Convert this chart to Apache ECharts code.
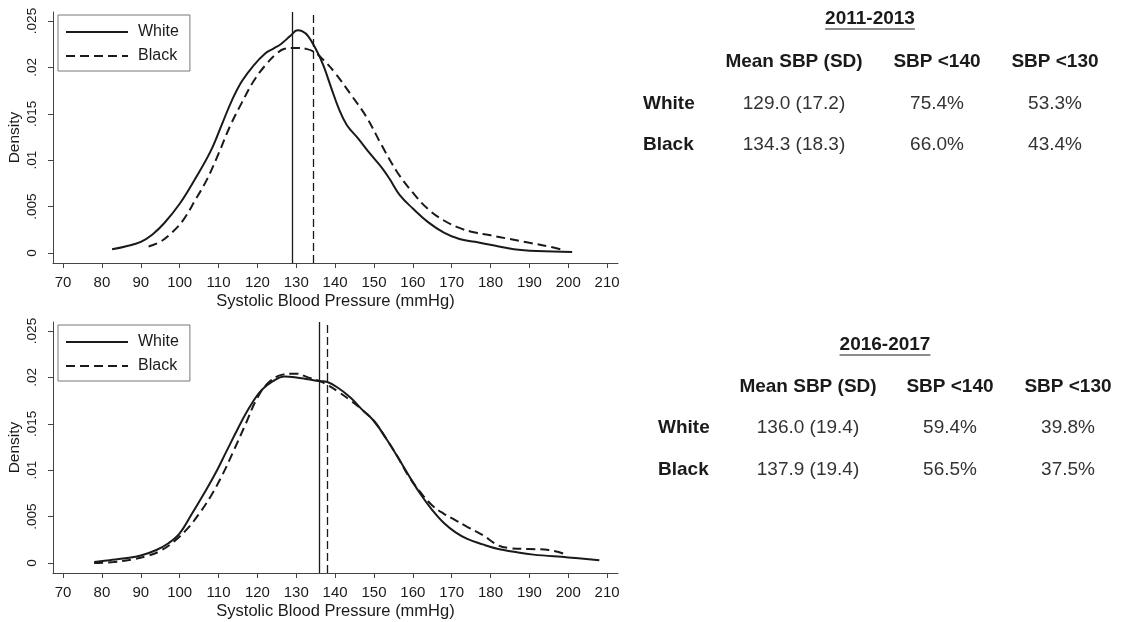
<!DOCTYPE html>
<html>
<head>
<meta charset="utf-8">
<script src="https://cdn.jsdelivr.net/npm/echarts@6/dist/echarts.min.js"></script>
<style>
html,body{margin:0;padding:0;background:#fff;}
#chart{width:1126px;height:622px;}
</style>
</head>
<body>
<div id="chart"></div>
<script>
// ---------- DATA ----------
const seriesNames = ['White', 'Black'];
const xTicks = [70, 80, 90, 100, 110, 120, 130, 140, 150, 160, 170, 180, 190, 200, 210];
const yTicks = [0, 0.005, 0.01, 0.015, 0.02, 0.025];
const yTickLabels = ['0', '.005', '.01', '.015', '.02', '.025'];

// 2011-2013 densities [SBP, density]
const whiteTop = [[82.6,0.0004],[86,0.0007],[90,0.0012],[93,0.0020],[96,0.0032],[100,0.0053],[104,0.0080],[108,0.0110],[111,0.0140],[113.5,0.0165],[116,0.0185],[119,0.0202],[122,0.0215],[124,0.0220],[126,0.0225],[128.5,0.0234],[130.3,0.0240],[131.5,0.0239],[133,0.0234],[135,0.0220],[137,0.0202],[139,0.0178],[141,0.0155],[143,0.0138],[146,0.0123],[149,0.0107],[152,0.0092],[154,0.0080],[156.7,0.0062],[160,0.0048],[164,0.0033],[168,0.0022],[172,0.0015],[176,0.0012],[181,0.0008],[186,0.0004],[192,0.0002],[201,0.0001]];
const blackTop = [[92,0.0007],[95,0.0012],[98,0.0022],[101,0.0036],[104,0.0057],[107,0.0079],[110,0.0107],[113,0.0137],[116,0.0162],[119,0.0185],[122,0.0202],[125,0.0215],[127,0.0220],[130,0.0221],[132.5,0.0220],[134.5,0.0217],[137,0.0208],[140,0.0194],[144,0.0171],[148,0.0147],[152,0.0116],[156,0.0087],[160,0.0065],[164,0.0047],[168,0.0035],[172,0.0027],[176,0.0022],[180,0.0019],[185,0.0015],[190,0.0011],[195,0.0007],[198,0.0004]];

// 2016-2017 densities [SBP, density]
const whiteBottom = [[78,0.0001],[82,0.0003],[86,0.0005],[90,0.0008],[94,0.0014],[97,0.0021],[100,0.0032],[103,0.0052],[106,0.0073],[109,0.0095],[112,0.0120],[115,0.0145],[118,0.0168],[121,0.0186],[124,0.0196],[127,0.0201],[130,0.0200],[133,0.0198],[136,0.0196],[138,0.0195],[141,0.0188],[144,0.0178],[147,0.0165],[150,0.0153],[153,0.0135],[156,0.0115],[159,0.0094],[162,0.0074],[165,0.0057],[168,0.0043],[171,0.0033],[174,0.0026],[178,0.0020],[182,0.0015],[186,0.0012],[191,0.0009],[200,0.0006],[208,0.0003]];
const blackBottom = [[78,0.0000],[83,0.0001],[88,0.0004],[92,0.0008],[95,0.0013],[98.5,0.0023],[102,0.0037],[105,0.0053],[108,0.0072],[111,0.0095],[114,0.0122],[117,0.0150],[120,0.0178],[123,0.0195],[126.5,0.0203],[130,0.0204],[133,0.0200],[136,0.0196],[138,0.0192],[141,0.0184],[144,0.0175],[147,0.0165],[150,0.0153],[153,0.0135],[156,0.0115],[159,0.0093],[162,0.0076],[165,0.0062],[168,0.0053],[171,0.0046],[174,0.0039],[178,0.0030],[182,0.0019],[185,0.0016],[190,0.0015],[195,0.0014],[199.6,0.0009]];

// tables
const periods = ['2011-2013', '2016-2017'];
const tableHeaders = ['Mean SBP (SD)', 'SBP <140', 'SBP <130'];
const meanTop = [129.0, 134.3];
const sdTop = [17.2, 18.3];
const below140Top = [75.4, 66.0];
const below130Top = [53.3, 43.4];
const meanBottom = [136.0, 137.9];
const sdBottom = [19.4, 19.4];
const below140Bottom = [59.4, 56.5];
const below130Bottom = [39.8, 37.5];

// ---------- CHART ----------
const FONT = "'Liberation Sans', Arial, sans-serif";
const INK = '#1a1a1a';
const AXIS = '#444';

function xAxisFor(gridIndex) {
  return {
    type: 'value', gridIndex: gridIndex, min: 67.4, max: 212.8,
    name: 'Systolic Blood Pressure (mmHg)', nameLocation: 'middle', nameGap: 30,
    nameTextStyle: {fontFamily: FONT, fontSize: 16.5, color: INK},
    axisLine: {show: true, onZero: false, lineStyle: {color: AXIS, width: 1}},
    axisTick: {show: true, length: 5, customValues: xTicks, lineStyle: {color: AXIS}},
    axisLabel: {customValues: xTicks, fontFamily: FONT, fontSize: 15, color: INK, margin: 12},
    splitLine: {show: false}
  };
}
function yAxisFor(gridIndex) {
  return {
    type: 'value', gridIndex: gridIndex, min: -0.00108, max: 0.02597,
    name: 'Density', nameLocation: 'middle', nameGap: 30, nameMoveOverlap: false,
    nameTextStyle: {fontFamily: FONT, fontSize: 15.5, color: INK},
    axisLine: {show: true, onZero: false, lineStyle: {color: AXIS, width: 1}},
    axisTick: {show: true, length: 5, customValues: yTicks, lineStyle: {color: AXIS}},
    axisLabel: {
      customValues: yTicks, rotate: 90, fontFamily: FONT, fontSize: 13.5, color: INK, margin: 14,
      formatter: function (v) {
        let best = 0, bd = Infinity;
        yTicks.forEach(function (t, i) { const d = Math.abs(t - v); if (d < bd) { bd = d; best = i; } });
        return yTickLabels[best];
      }
    },
    splitLine: {show: false}
  };
}
function curve(name, data, idx, dashed, mean) {
  return {
    type: 'line', name: name, data: data, xAxisIndex: idx, yAxisIndex: idx,
    showSymbol: false, symbol: 'none', smooth: 0.4,
    lineStyle: {color: INK, width: 2, type: dashed ? [9, 5] : 'solid'},
    itemStyle: {color: INK},
    emphasis: {disabled: true},
    markLine: {
      silent: true, symbol: 'none', label: {show: false},
      lineStyle: {color: INK, width: 1.3, type: dashed ? [8, 4] : 'solid'},
      data: [{xAxis: mean}]
    }
  };
}
function legendAt(top) {
  return {
    orient: 'vertical', left: 58, top: top, data: seriesNames,
    itemWidth: 62, itemHeight: 14, itemGap: 8,
    padding: [9, 11, 7, 7],
    borderColor: '#777', borderWidth: 1, backgroundColor: '#fff',
    selectedMode: false,
    itemStyle: {opacity: 0},
    textStyle: {fontFamily: FONT, fontSize: 16, color: INK, padding: [0, 0, 0, 5]}
  };
}

// tables as graphic text
const measureCtx = document.createElement('canvas').getContext('2d');
function tableGraphics(title, titlePos, headerY, rowYs, labelX, colXs, rows) {
  const g = [];
  const fs = 19;
  g.push({type: 'text', x: titlePos[0], y: titlePos[1], style: {text: title, font: 'bold ' + fs + 'px ' + FONT, fill: INK, textAlign: 'center', textVerticalAlign: 'middle'}});
  measureCtx.font = 'bold ' + fs + 'px ' + FONT;
  const w = measureCtx.measureText(title).width;
  g.push({type: 'line', shape: {x1: titlePos[0] - w / 2, y1: titlePos[1] + 10, x2: titlePos[0] + w / 2, y2: titlePos[1] + 10}, style: {stroke: INK, lineWidth: 1.2}});
  tableHeaders.forEach(function (h, i) {
    g.push({type: 'text', x: colXs[i], y: headerY, style: {text: h, font: 'bold ' + fs + 'px ' + FONT, fill: INK, textAlign: 'center', textVerticalAlign: 'middle'}});
  });
  rows.forEach(function (r, ri) {
    g.push({type: 'text', x: labelX, y: rowYs[ri], style: {text: r[0], font: 'bold ' + fs + 'px ' + FONT, fill: INK, textAlign: 'left', textVerticalAlign: 'middle'}});
    for (let c = 1; c < r.length; c++) {
      g.push({type: 'text', x: colXs[c - 1], y: rowYs[ri], style: {text: r[c], font: fs + 'px ' + FONT, fill: '#333', textAlign: 'center', textVerticalAlign: 'middle'}});
    }
  });
  return g;
}
function rowsFrom(mean, sd, p140, p130) {
  return seriesNames.map(function (n, i) {
    return [n, mean[i].toFixed(1) + ' (' + sd[i].toFixed(1) + ')', p140[i].toFixed(1) + '%', p130[i].toFixed(1) + '%'];
  });
}

const graphics = []
  .concat(tableGraphics(periods[0], [870, 19], 62, [104, 145], 643, [794, 937, 1055], rowsFrom(meanTop, sdTop, below140Top, below130Top)))
  .concat(tableGraphics(periods[1], [885, 345], 387, [428, 470], 658, [808, 950, 1068], rowsFrom(meanBottom, sdBottom, below140Bottom, below130Bottom)));

const chart = echarts.init(document.getElementById('chart'), null, {renderer: 'canvas'});
chart.setOption({
  animation: false,
  backgroundColor: '#fff',
  grid: [
    {left: 53, top: 12, width: 565, height: 251, containLabel: false, outerBoundsMode: 'none'},
    {left: 53, top: 322, width: 565, height: 251, containLabel: false, outerBoundsMode: 'none'}
  ],
  xAxis: [xAxisFor(0), xAxisFor(1)],
  yAxis: [yAxisFor(0), yAxisFor(1)],
  legend: [legendAt(15), legendAt(325)],
  series: [
    curve(seriesNames[0], whiteTop, 0, false, meanTop[0]),
    curve(seriesNames[1], blackTop, 0, true, meanTop[1]),
    curve(seriesNames[0], whiteBottom, 1, false, meanBottom[0]),
    curve(seriesNames[1], blackBottom, 1, true, meanBottom[1])
  ],
  graphic: graphics
});
</script>
</body>
</html>
